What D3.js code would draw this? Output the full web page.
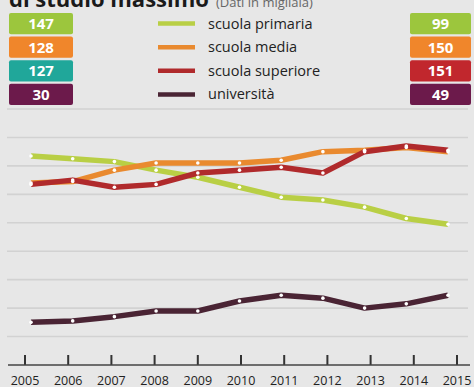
<!DOCTYPE html>
<html>
<head>
<meta charset="utf-8">
<script src="https://cdn.jsdelivr.net/npm/d3@7"></script>
<style>
  html, body { margin: 0; padding: 0; background: #e7e7e7; }
  svg { display: block; }
</style>
</head>
<body>
<svg id="chart" width="474" height="387"></svg>
<script>
// Studenti per titolo di studio massimo, dati in migliaia
const years = [2005, 2006, 2007, 2008, 2009, 2010, 2011, 2012, 2013, 2014, 2015];
const seriesNames = ["scuola primaria", "scuola media", "scuola superiore", "università"];
const primaria  = [147, 145, 143, 137, 132, 125, 118, 116, 111, 103, 99];
const media     = [128, 129, 137, 142, 142, 142, 144, 150, 151, 153, 150];
const superiore = [127, 130, 125, 127, 135, 137, 139, 135, 150, 154, 151];
const universita = [30, 31, 34, 38, 38, 45, 49, 47, 40, 43, 49];
const yTicks = [0, 20, 40, 60, 80, 100, 120, 140, 160, 180];

const lineColors = ["#b9cf45", "#e98a2f", "#b02a2c", "#4a2434"];
const leftBoxColors = ["#9cc63d", "#f0862b", "#20a79a", "#6c1a4b"];
const rightBoxColors = ["#9cc63d", "#f0862b", "#c1272d", "#6c1a4b"];

const allSeries = [primaria, media, superiore, universita];

const svg = d3.select("#chart");

// Title (runs off the top edge)
const title = svg.append("text").attr("x", 9).attr("y", 7)
  .attr("font-family", "Open Sans, sans-serif");
title.append("tspan").attr("font-weight", 700).attr("font-size", 22)
  .attr("fill", "#1a1a1a").text("di studio massimo");
title.append("tspan").attr("font-size", 13).attr("fill", "#666")
  .attr("dx", 7).text("(Dati in migliaia)");

// Legend: start / end value boxes and line samples
const boxY = d3.scaleBand().domain(d3.range(4)).range([13, 105]).paddingInner(0.1);
const leftBoxes = svg.append("g");
const rightBoxes = svg.append("g");
seriesNames.forEach((name, i) => {
  const y0 = boxY(i), h = boxY.bandwidth();
  leftBoxes.append("rect").attr("x", 9).attr("y", y0).attr("width", 64).attr("height", h)
    .attr("rx", 2).attr("fill", leftBoxColors[i]);
  leftBoxes.append("text").attr("x", 41).attr("y", y0 + h / 2 + 5.5)
    .attr("text-anchor", "middle").attr("font-family", "Open Sans, sans-serif")
    .attr("font-weight", 700).attr("font-size", 15).attr("fill", "#fff")
    .text(allSeries[i][0]);
  rightBoxes.append("rect").attr("x", 410).attr("y", y0).attr("width", 61).attr("height", h)
    .attr("rx", 2).attr("fill", rightBoxColors[i]);
  rightBoxes.append("text").attr("x", 440.5).attr("y", y0 + h / 2 + 5.5)
    .attr("text-anchor", "middle").attr("font-family", "Open Sans, sans-serif")
    .attr("font-weight", 700).attr("font-size", 15).attr("fill", "#fff")
    .text(allSeries[i][allSeries[i].length - 1]);
  const cy = y0 + h / 2;
  svg.append("line").attr("x1", 158).attr("x2", 195).attr("y1", cy).attr("y2", cy)
    .attr("stroke", lineColors[i]).attr("stroke-width", 4.5);
  svg.append("text").attr("x", 208).attr("y", cy + 5)
    .attr("font-family", "Open Sans, sans-serif").attr("font-size", 14.5)
    .attr("fill", "#222").text(name);
});

// Scales
const y = d3.scaleLinear().domain([0, 180]).range([365, 109]);
const xAxisScale = d3.scaleLinear().domain([2005, 2015]).range([24.5, 456.5]);
const xData = d3.scaleLinear().domain([2005, 2015]).range([31, 448]);

// Horizontal grid
svg.append("g").selectAll("line").data(yTicks.filter(d => d > 0)).join("line")
  .attr("x1", 7).attr("x2", 468)
  .attr("y1", d => y(d)).attr("y2", d => y(d))
  .attr("stroke", "#d2d2d2").attr("stroke-width", 1.6);

// X axis
const xAxis = d3.axisBottom(xAxisScale)
  .tickValues(years).tickFormat(d3.format("d"))
  .tickSizeInner(-10).tickSizeOuter(0);
const gx = svg.append("g").attr("transform", `translate(0,${y(0)})`).call(xAxis);
gx.select(".domain").remove();
gx.append("line").attr("x1", 8).attr("x2", 470).attr("y1", 0).attr("y2", 0)
  .attr("stroke", "#444").attr("stroke-width", 1.5);
gx.selectAll(".tick line").attr("stroke", "#333").attr("stroke-width", 2);
gx.selectAll(".tick text").attr("font-family", "Open Sans, sans-serif")
  .attr("font-size", 12.5).attr("fill", "#222").attr("dy", 0)
  .attr("y", 19.5);

// Series lines
const line = d3.line().x((d, i) => xData(years[i])).y(d => y(d));
allSeries.forEach((values, i) => {
  svg.append("path").datum(values).attr("d", line)
    .attr("fill", "none").attr("stroke", lineColors[i])
    .attr("stroke-width", 5.5).attr("stroke-linejoin", "round");
});
// White markers at each yearly value
allSeries.forEach(values => {
  svg.append("g").selectAll("circle").data(values).join("circle")
    .attr("cx", (d, j) => xData(years[j])).attr("cy", d => y(d))
    .attr("r", 1.8).attr("fill", "#fff");
});
</script>
</body>
</html>
